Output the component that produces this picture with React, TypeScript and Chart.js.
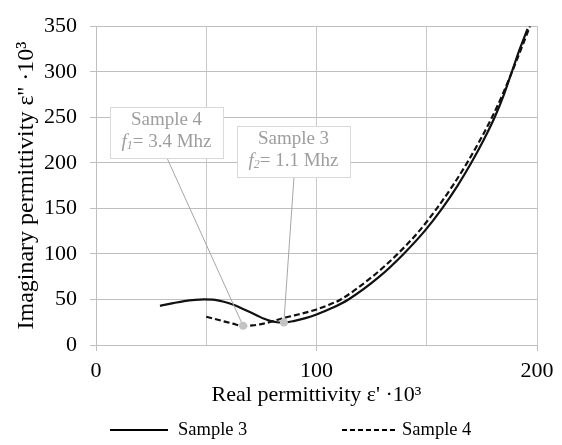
import React, { useEffect, useRef } from "react";
import { Chart, registerables } from "chart.js";

Chart.register(...registerables);

// ---- Data ----
const sample3X = [29, 35, 40, 45, 49, 54, 58, 62, 65.5, 69, 73, 76, 79, 82, 85, 90, 95, 100, 107, 114.5, 128.5, 139.5, 149, 157, 164, 170.2, 175.8, 180.8, 185, 188.6, 192.2, 195.7];
const sample3Y = [43, 46, 48.2, 49.5, 50, 49.5, 47.5, 44.5, 41, 37, 32.5, 29, 26.5, 25, 24.7, 26.5, 29.5, 33.5, 40.5, 50, 75, 100, 125, 150, 175, 200, 225, 250, 275, 300, 325, 347];

const sample4X = [50, 54, 58, 62, 66.7, 71, 76, 80, 85, 90, 95, 100, 105, 111, 125.3, 136.8, 146.5, 154.6, 161.8, 168.3, 174.2, 179.6, 184.4, 188.7, 192.8, 196.8];
const sample4Y = [31, 28.5, 26, 23.5, 21, 21.5, 23.5, 26, 29.5, 32.5, 35.5, 39, 43.5, 50, 75, 100, 125, 150, 175, 200, 225, 250, 275, 300, 325, 350];

const markerX = [66.7, 85.2];
const markerY = [21, 24.6];
const markerSample = ["Sample 4", "Sample 3"];
const markerSub = ["1", "2"];
const markerFreq = ["= 3.4 Mhz", "= 1.1 Mhz"];

const seriesNames = ["Sample 3", "Sample 4"];
const xTickLabels = [0, 100, 200];
const yTickLabels = [0, 50, 100, 150, 200, 250, 300, 350];

const FONT = "'Liberation Serif', 'Times New Roman', serif";

const toPts = (xs: number[], ys: number[]) => xs.map((x, i) => ({ x, y: ys[i] }));

// annotation boxes (layout)
const boxes = [
  { x: 110, y: 107, w: 113, h: 51, ax: 167, ay: 158 },
  { x: 237, y: 126, w: 113, h: 51, ax: 294, ay: 177 },
];

const overlayPlugin = {
  id: "overlay",
  afterDatasetsDraw(chart: any) {
    const ctx = chart.ctx;
    const xs = chart.scales.x;
    const ys = chart.scales.y;
    ctx.save();
    boxes.forEach((b, i) => {
      const px = xs.getPixelForValue(markerX[i]);
      const py = ys.getPixelForValue(markerY[i]);
      ctx.strokeStyle = "#a6a6a6";
      ctx.lineWidth = 1;
      ctx.setLineDash([]);
      ctx.beginPath();
      ctx.moveTo(b.ax, b.ay);
      ctx.lineTo(px, py);
      ctx.stroke();
    });
    markerX.forEach((mx, i) => {
      const px = xs.getPixelForValue(mx);
      const py = ys.getPixelForValue(markerY[i]);
      ctx.fillStyle = "#c4c4c4";
      ctx.beginPath();
      ctx.arc(px, py, 4, 0, Math.PI * 2);
      ctx.fill();
    });
    boxes.forEach((b, i) => {
      ctx.fillStyle = "#ffffff";
      ctx.fillRect(b.x, b.y, b.w, b.h);
      ctx.strokeStyle = "#d9d9d9";
      ctx.lineWidth = 1;
      ctx.strokeRect(b.x + 0.5, b.y + 0.5, b.w, b.h);
      const cx = b.x + b.w / 2;
      ctx.fillStyle = "#9d9d9d";
      ctx.textBaseline = "middle";
      ctx.textAlign = "center";
      ctx.font = `19px ${FONT}`;
      ctx.fillText(markerSample[i], cx, b.y + 13);
      ctx.textAlign = "left";
      ctx.font = `italic 19px ${FONT}`;
      const wf = ctx.measureText("f").width;
      ctx.font = `italic 12px ${FONT}`;
      const ws = ctx.measureText(markerSub[i]).width;
      ctx.font = `19px ${FONT}`;
      const wr = ctx.measureText(markerFreq[i]).width;
      const total = wf + ws + wr;
      let x0 = cx - total / 2;
      const ty = b.y + 35;
      ctx.font = `italic 19px ${FONT}`;
      ctx.fillText("f", x0, ty);
      x0 += wf;
      ctx.font = `italic 12px ${FONT}`;
      ctx.fillText(markerSub[i], x0, ty + 4);
      x0 += ws;
      ctx.font = `19px ${FONT}`;
      ctx.fillText(markerFreq[i], x0, ty);
    });
    ctx.restore();
  },
  afterDraw(chart: any) {
    const ctx = chart.ctx;
    ctx.save();
    const y = 430;
    ctx.strokeStyle = "#000";
    ctx.lineWidth = 2;
    ctx.setLineDash([]);
    ctx.beginPath();
    ctx.moveTo(110, y);
    ctx.lineTo(168, y);
    ctx.stroke();
    ctx.setLineDash([5, 3]);
    ctx.beginPath();
    ctx.moveTo(342, y);
    ctx.lineTo(397, y);
    ctx.stroke();
    ctx.setLineDash([]);
    ctx.fillStyle = "#000";
    ctx.font = `18.5px ${FONT}`;
    ctx.textBaseline = "middle";
    ctx.textAlign = "left";
    ctx.fillText(seriesNames[0], 178, y);
    ctx.fillText(seriesNames[1], 402, y);
    ctx.restore();
  },
};

export default function App() {
  const ref = useRef<HTMLCanvasElement | null>(null);
  useEffect(() => {
    if (!ref.current) return;
    const chart = new Chart(ref.current, {
      type: "scatter",
      data: {
        datasets: [
          {
            label: seriesNames[0],
            data: toPts(sample3X, sample3Y),
            showLine: true,
            borderColor: "#111",
            borderWidth: 2.2,
            pointRadius: 0,
            cubicInterpolationMode: "monotone",
            fill: false,
          },
          {
            label: seriesNames[1],
            data: toPts(sample4X, sample4Y),
            showLine: true,
            borderColor: "#111",
            borderWidth: 2.2,
            borderDash: [6, 3],
            pointRadius: 0,
            cubicInterpolationMode: "monotone",
            fill: false,
          },
        ],
      },
      options: {
        responsive: false,
        animation: false,
        layout: { padding: { left: 0, right: 25, top: 13, bottom: 30 } },
        plugins: { legend: { display: false }, tooltip: { enabled: false } },
        scales: {
          x: {
            type: "linear",
            min: 0,
            max: 200,
            afterFit: (s: any) => { s.height = 70; },
            ticks: {
              stepSize: 50,
              padding: 7,
              color: "#000",
              font: { family: FONT, size: 22 },
              callback: (v: any) => (xTickLabels.includes(Number(v)) ? String(v) : ""),
            },
            grid: {
              color: "#c8c8c8",
              tickLength: 6,
              tickColor: (c: any) => (c.tick && xTickLabels.includes(c.tick.value) ? "#bfbfbf" : "rgba(0,0,0,0)"),
            },
            border: { color: "#bfbfbf" },
            title: {
              display: true,
              text: "Real permittivity ε' ·10³",
              color: "#000",
              font: { family: FONT, size: 22 },
              padding: { top: 0, bottom: 7 },
            },
          },
          y: {
            type: "linear",
            min: 0,
            max: 350,
            afterFit: (s: any) => { s.width = 96; },
            ticks: {
              stepSize: 25,
              padding: 13,
              color: "#000",
              font: { family: FONT, size: 22 },
              callback: (v: any) => (yTickLabels.includes(Number(v)) ? String(v) : ""),
            },
            grid: {
              color: (c: any) => (c.tick && c.tick.value % 50 === 0 ? "#bfbfbf" : "#d9d9d9"),
              tickLength: 6,
              tickColor: (c: any) => (c.tick && yTickLabels.includes(c.tick.value) ? "#bfbfbf" : "rgba(0,0,0,0)"),
            },
            border: { color: "#bfbfbf" },
            title: {
              display: true,
              text: "Imaginary permittivity ε'' ·10³",
              color: "#000",
              font: { family: FONT, size: 24 },
              padding: { top: 12, bottom: 0 },
            },
          },
        },
      },
      plugins: [overlayPlugin],
    });
    return () => chart.destroy();
  }, []);
  return (
    <div style={{ position: "fixed", left: 0, top: 0, width: 562, height: 445, background: "#fff" }}>
      <canvas ref={ref} width={562} height={445} style={{ display: "block" }} />
    </div>
  );
}
